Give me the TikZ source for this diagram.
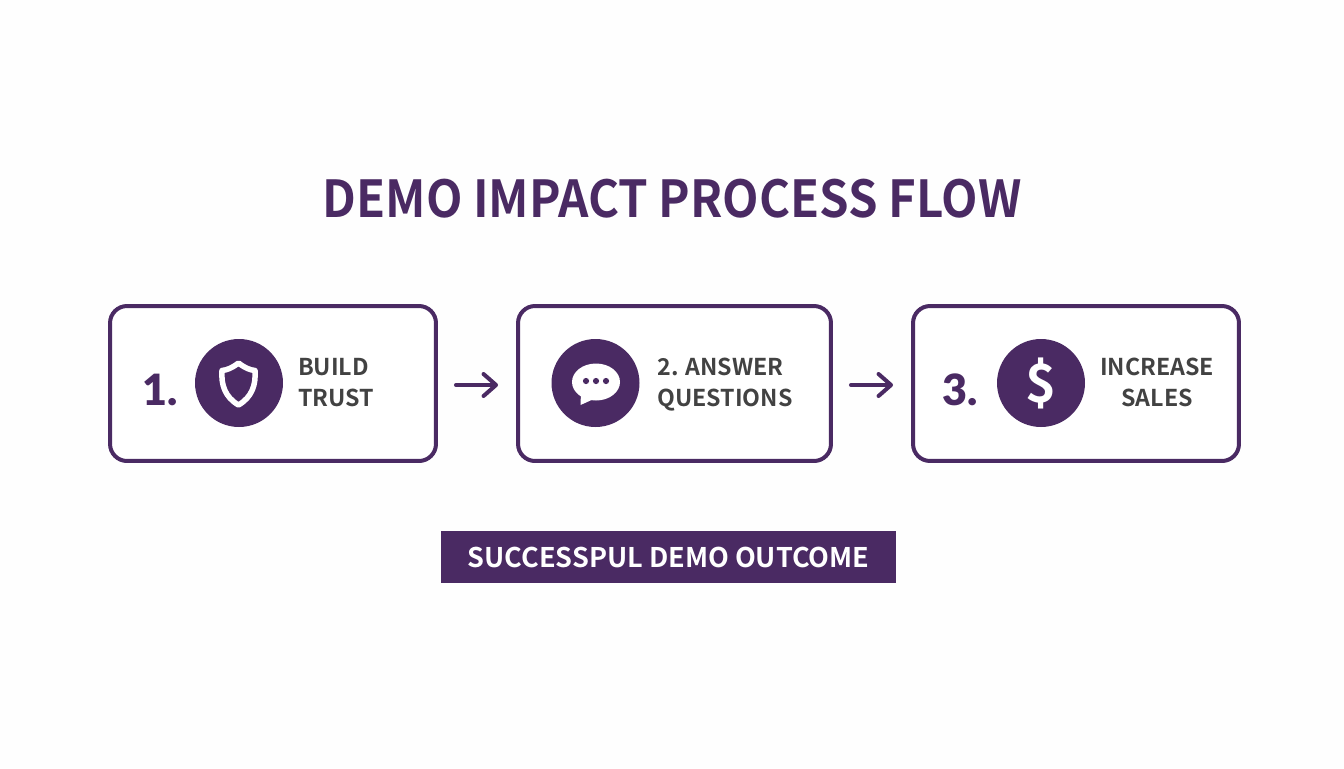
\documentclass[tikz,border=0pt]{standalone}
\usepackage{fontspec}
\setmainfont{Noto Sans CJK SC}[BoldFont={Noto Sans CJK SC Bold}]
\newfontfamily\titlefont{Noto Sans CJK SC Bold}[FakeStretch=0.93]
\newfontfamily\numfont{Lato Black}
\usetikzlibrary{arrows.meta}
\begin{document}
\begin{tikzpicture}[x=0.02cm,y=-0.02cm,
  stepbox/.style={draw=brand,line width=0.08cm,rounded corners=0.34cm,fill=white,minimum height=3.1cm,outer sep=0pt,inner sep=0pt},
  badge/.style={circle,fill=brand,minimum size=1.76cm,inner sep=0pt,outer sep=0pt},
  steplabel/.style={text=ink,font=\fontsize{13.2}{17.6}\selectfont\bfseries,align=left,inner sep=0pt},
  stepnum/.style={text=brand,font=\fontsize{24.5}{30}\numfont,inner sep=0pt},
  flow/.style={draw=brand,line width=0.08cm,line cap=round,-{Straight Barb[round,length=2.5mm,width=4.4mm]},shorten <=0.4cm,shorten >=0.4cm}]
  \definecolor{brand}{HTML}{4A2A63}
  \definecolor{ink}{HTML}{424242}
  \useasboundingbox [fill=white!99.5!black] (0,0) rectangle (1344,768);
  \node [text=brand,font=\fontsize{29}{32}\titlefont,inner sep=0pt] (title) at (672,199) {DEMO IMPACT PROCESS FLOW};
  \node [stepbox,minimum width=6.52cm] (trustbox) at (273,383.5) {};
  \node [stepbox,minimum width=6.26cm] (answerbox) at (674.5,383.5) {};
  \node [stepbox,minimum width=6.52cm] (salesbox) at (1076,383.5) {};
  \draw [flow] ([yshift=-0.03cm]trustbox.east) -- ([yshift=-0.03cm]answerbox.west);
  \draw [flow] ([yshift=-0.03cm]answerbox.east) -- ([yshift=-0.03cm]salesbox.west);
  \node [stepnum] (trustnum) at (160,390) {1.};
  \node [badge] (trustbadge) at (239,383) {};
  \draw [white,line width=0.11cm,line join=round] (238.5,363) .. controls (232,368) and (227,370) .. (222,370.5) .. controls (221,385) and (225,397) .. (238.5,405) .. controls (252,397) and (256,385) .. (255,370.5) .. controls (250,370) and (245,368) .. (238.5,363) -- cycle;
  \node [steplabel] (trusttext) at (336,383) {BUILD\\TRUST};
  \node [badge] (answerbadge) at (595.5,383) {};
  \fill [white] (596,382) ellipse (24 and 18.5);
  \fill [white] (581,392) -- (580.5,405) -- (596,398) -- cycle;
  \foreach \dotx in {586,596,606}
    \fill [brand] (\dotx,381) circle (3.1);
  \node [steplabel] (answertext) at (725,385) {2. ANSWER\\QUESTIONS};
  \node [stepnum] (salesnum) at (960,390) {3.};
  \node [badge] (salesbadge) at (1041,383) {};
  \node [text=white,font=\fontsize{30}{36}\selectfont\bfseries,inner sep=0pt] (salessign) at (1041,383) {\$};
  \node [steplabel,align=center] (salestext) at (1157,382) {INCREASE\\SALES};
  \node [fill=brand,text=white,font=\fontsize{15.4}{20}\selectfont\bfseries,minimum width=9.1cm,minimum height=1.04cm,inner sep=0pt] (outcome) at (668.5,557) {SUCCESSPUL DEMO OUTCOME};
\end{tikzpicture}
\end{document}
